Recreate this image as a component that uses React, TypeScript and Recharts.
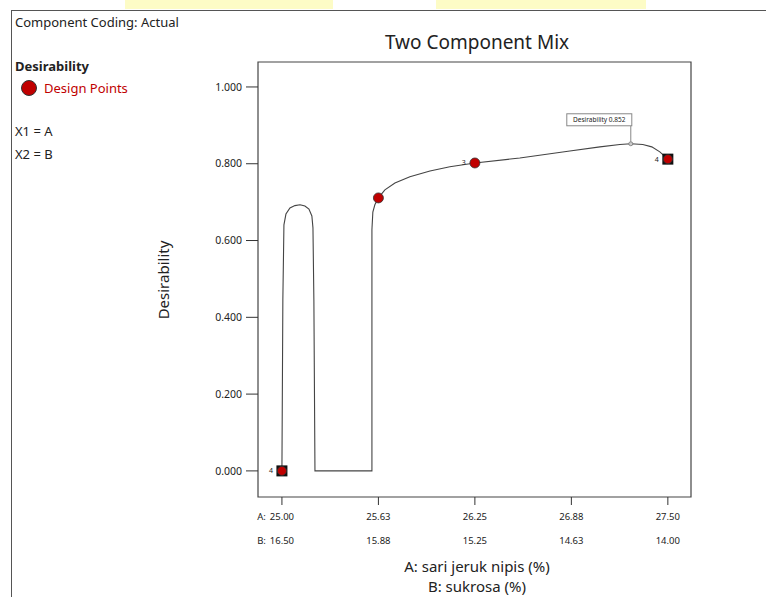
import { ComposedChart, Line, Scatter, XAxis, YAxis, ReferenceArea } from "recharts";

// desirability trace (A %, desirability)
const curveA = [
  25.0, 25.006, 25.013, 25.026, 25.052, 25.084, 25.117, 25.149, 25.175, 25.194, 25.201, 25.207, 25.214,
  25.583, 25.583, 25.589, 25.602, 25.625, 25.667, 25.732, 25.829, 25.959, 26.088, 26.25, 26.541, 26.865,
  27.06, 27.189, 27.26, 27.338, 27.396, 27.448, 27.5,
];
const curveD = [
  0.0, 0.445, 0.641, 0.669, 0.685, 0.691, 0.693, 0.69, 0.682, 0.664, 0.633, 0.445, 0.0,
  0.0, 0.628, 0.674, 0.693, 0.711, 0.732, 0.75, 0.766, 0.781, 0.792, 0.802, 0.815, 0.833,
  0.844, 0.85, 0.852, 0.85, 0.844, 0.831, 0.812,
];

// design points
const designA = [25.0, 25.625, 26.25, 27.5];
const designD = [0.0, 0.711, 0.802, 0.812];
const designReps = [4, 1, 3, 4];

// flagged optimum
const peakA = [27.26];
const peakD = [0.852];

const xTicks = [25, 25.625, 26.25, 26.875, 27.5];
const aLabels = ["25.00", "25.63", "26.25", "26.88", "27.50"];
const bLabels = ["16.50", "15.88", "15.25", "14.63", "14.00"];
const yTicks = [0, 0.2, 0.4, 0.6, 0.8, 1];

const curveData = curveA.map((a, i) => ({ a, d: curveD[i] }));
const designData = designA.map((a, i) => ({ a, d: designD[i], reps: designReps[i] }));
const peakData = peakA.map((a, i) => ({ a, d: peakD[i] }));

const FONT = "'Noto Sans', 'Open Sans', sans-serif";
const RED = "#c00000";

const XTick = (props: any) => {
  const { x, y, payload } = props;
  const i = xTicks.indexOf(payload.value);
  return (
    <g fontFamily={FONT} fontSize={9.5} fill="#222">
      <text x={x} y={y + 9} textAnchor="middle" dominantBaseline="central">
        {aLabels[i]}
      </text>
      <text x={x} y={y + 33} textAnchor="middle" dominantBaseline="central">
        {bLabels[i]}
      </text>
      {i === 0 && (
        <>
          <text x={x - 16} y={y + 9} textAnchor="end" dominantBaseline="central">A:</text>
          <text x={x - 16} y={y + 33} textAnchor="end" dominantBaseline="central">B:</text>
        </>
      )}
    </g>
  );
};

const DesignShape = (props: any) => {
  const { cx, cy, payload } = props;
  const square = payload.reps >= 4;
  return (
    <g>
      {square && <rect x={cx - 5.5} y={cy - 5.5} width={11} height={11} fill="#111" />}
      <circle cx={cx} cy={cy} r={square ? 4.5 : 5} fill={RED} stroke="#333" strokeWidth={0.8} />
      {payload.reps > 1 && (
        <text x={cx - 9} y={cy} textAnchor="end" dominantBaseline="central" fontSize={7} fontFamily={FONT} fill="#222">
          {payload.reps}
        </text>
      )}
    </g>
  );
};

const PeakShape = (props: any) => {
  const { cx, cy, payload } = props;
  return (
    <g>
      <line x1={cx} y1={cy - 2} x2={cx} y2={cy - 18} stroke="#888" strokeWidth={1} />
      <circle cx={cx} cy={cy} r={2} fill="#ccc" stroke="#777" strokeWidth={0.8} />
      <rect x={cx - 64} y={cy - 30} width={65} height={12} fill="#fff" stroke="#888" strokeWidth={1} />
      <text x={cx - 31.5} y={cy - 24} textAnchor="middle" dominantBaseline="central" fontSize={6.5} fontFamily={FONT} fill="#222">
        {`Desirability  ${payload.d.toFixed(3)}`}
      </text>
    </g>
  );
};

const abs = (left: number, top: number, extra: any = {}) => ({
  position: "absolute" as const,
  left,
  top,
  whiteSpace: "nowrap" as const,
  ...extra,
});

export default function App() {
  return (
    <div style={{ position: "absolute", left: 0, top: 0, width: 766, height: 597, background: "#fff", fontFamily: FONT, color: "#222", overflow: "hidden" }}>
      {/* strip of the screenshot above the frame */}
      <div style={abs(125, 0, { width: 208, height: 9, background: "#fdfcc6" })} />
      <div style={abs(436, 0, { width: 210, height: 9, background: "#fdfcc6" })} />
      <div style={abs(11, 10, { width: 760, height: 600, borderLeft: "1.5px solid #555", borderTop: "1.5px solid #555" })} />

      <div style={abs(15, 13, { fontSize: 13, lineHeight: "18px" })}>Component Coding: Actual</div>
      <div style={abs(15, 57, { fontSize: 13, lineHeight: "18px", fontWeight: 700 })}>Desirability</div>
      <div style={abs(21, 80, { width: 14, height: 14, borderRadius: "50%", background: RED, border: "1px solid #333" })} />
      <div style={abs(44, 79, { fontSize: 13, lineHeight: "18px", color: RED })}>Design Points</div>
      <div style={abs(15, 122, { fontSize: 13, lineHeight: "18px" })}>X1 = A</div>
      <div style={abs(15, 145, { fontSize: 13, lineHeight: "18px" })}>X2 = B</div>

      <div style={abs(277, 29, { width: 400, textAlign: "center", fontSize: 19, lineHeight: "26px" })}>Two Component Mix</div>
      <div style={abs(63, 269, { width: 200, textAlign: "center", fontSize: 15, lineHeight: "22px", transform: "rotate(-90deg)" })}>Desirability</div>
      <div style={abs(277, 555, { width: 400, textAlign: "center", fontSize: 15, lineHeight: "22px" })}>A: sari jeruk nipis (%)</div>
      <div style={abs(277, 576, { width: 400, textAlign: "center", fontSize: 15, lineHeight: "20px" })}>B: sukrosa (%)</div>

      <div style={{ position: "absolute", left: 0, top: 0 }}>
        <ComposedChart width={766} height={597} margin={{ top: 62, right: 75, left: 198, bottom: 40 }}>
          <XAxis
            dataKey="a"
            type="number"
            domain={[24.845, 27.65]}
            ticks={xTicks}
            allowDataOverflow
            tickSize={8}
            tickLine={{ stroke: "#333" }}
            axisLine={false}
            height={60}
            tick={<XTick />}
          />
          <YAxis
            dataKey="d"
            type="number"
            domain={[-0.068, 1.065]}
            ticks={yTicks}
            allowDataOverflow
            width={60}
            tickSize={12}
            tickMargin={4}
            tickLine={{ stroke: "#333" }}
            axisLine={false}
            tickFormatter={(v: number) => v.toFixed(3)}
            tick={{ fontSize: 10.5, fontFamily: FONT, fill: "#222" }}
          />
          <ReferenceArea x1={24.845} x2={27.65} y1={-0.068} y2={1.065} fill="none" stroke="#444" strokeWidth={1.2} ifOverflow="visible" />
          <Line
            data={curveData}
            dataKey="d"
            type="linear"
            stroke="#444"
            strokeWidth={1.1}
            dot={false}
            activeDot={false}
            isAnimationActive={false}
          />
          <Scatter data={peakData} dataKey="d" shape={<PeakShape />} isAnimationActive={false} />
          <Scatter data={designData} dataKey="d" shape={<DesignShape />} isAnimationActive={false} />
        </ComposedChart>
      </div>
    </div>
  );
}
